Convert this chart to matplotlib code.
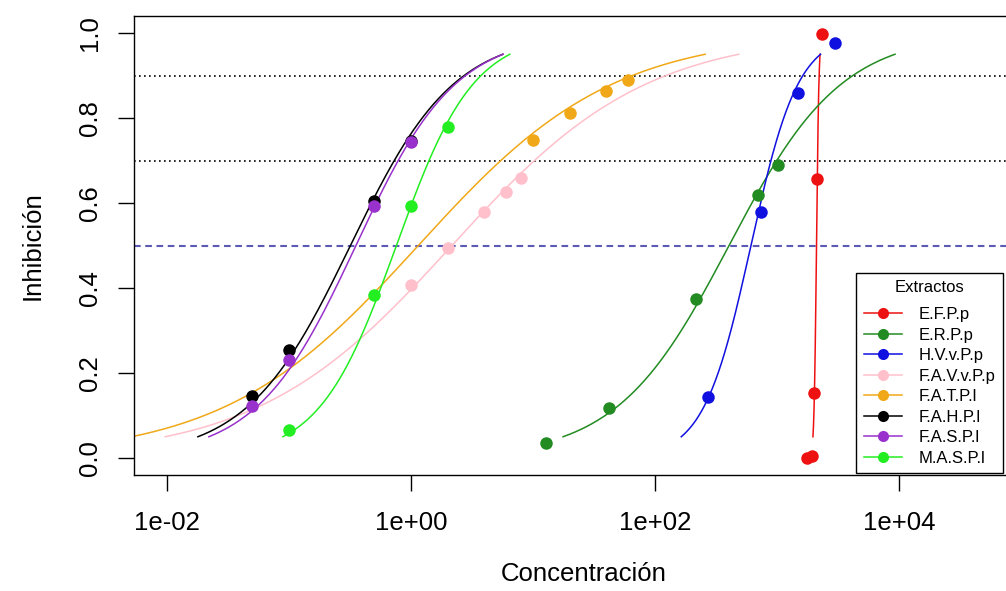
import numpy as np
import matplotlib
matplotlib.use("Agg")
import matplotlib.pyplot as plt
from matplotlib.ticker import FixedLocator, NullLocator

plt.rcParams['font.family'] = ['Liberation Sans', 'DejaVu Sans']

# ---------------- data ----------------
extracts = ["E.F.P.p", "E.R.P.p", "H.V.v.P.p", "F.A.V.v.P.p",
            "F.A.T.P.l", "F.A.H.P.l", "F.A.S.P.l", "M.A.S.P.l"]
colors = ["#EE1111", "#228B22", "#1010E0", "#FFC0CB",
          "#F0A818", "#000000", "#9932CC", "#22EE22"]

# observed points (concentration, inhibition)
efpp_conc = [1760, 1940, 2020, 2150, 2320]
efpp_inh = [0.0, 0.005, 0.152, 0.656, 0.998]

erpp_conc = [12.8, 42, 217, 700, 1020]
erpp_inh = [0.035, 0.118, 0.375, 0.619, 0.690]

hvvpp_conc = [270, 740, 1500, 3000]
hvvpp_inh = [0.144, 0.578, 0.858, 0.976]

favvpp_conc = [1, 2, 4, 6, 8]
favvpp_inh = [0.408, 0.493, 0.578, 0.625, 0.658]

fatpl_conc = [10, 20, 40, 60]
fatpl_inh = [0.749, 0.811, 0.864, 0.889]

fahpl_conc = [0.05, 0.1, 0.5, 1]
fahpl_inh = [0.147, 0.255, 0.604, 0.746]

faspl_conc = [0.05, 0.1, 0.5, 1]
faspl_inh = [0.123, 0.231, 0.594, 0.743]

maspl_conc = [0.1, 0.5, 1, 2]
maspl_inh = [0.067, 0.384, 0.594, 0.780]

conc_sets = [efpp_conc, erpp_conc, hvvpp_conc, favvpp_conc,
             fatpl_conc, fahpl_conc, faspl_conc, maspl_conc]
inh_sets = [efpp_inh, erpp_inh, hvvpp_inh, favvpp_inh,
            fatpl_inh, fahpl_inh, faspl_inh, maspl_inh]

# fitted two-parameter log-logistic models (EC50, Hill slope),
# drawn between 5 % and 95 % inhibition
ec50 = [2110, 405, 612, 2.17, 1.15, 0.319, 0.354, 0.760]
hill = [44.0, 0.94, 2.24, 0.544, 0.544, 1.023, 1.061, 1.375]

ref_levels = [0.9, 0.7, 0.5]
xtick_vals = [1e-2, 1e0, 1e2, 1e4]
xtick_labels = ["1e-02", "1e+00", "1e+02", "1e+04"]
ytick_vals = [0.0, 0.2, 0.4, 0.6, 0.8, 1.0]
ytick_labels = ["0.0", "0.2", "0.4", "0.6", "0.8", "1.0"]

# ---------------- figure ----------------
W, H = 1006, 591
fig = plt.figure(figsize=(W / 100, H / 100), dpi=100)
ax_l, ax_r, ax_t, ax_b = 134, 1033, 16, 475
ax = fig.add_axes([ax_l / W, 1 - ax_b / H, (ax_r - ax_l) / W, (ax_b - ax_t) / H])
ax.set_xscale("log")
ax.set_xlim(10 ** -2.27, 10 ** 5.099)
ax.set_ylim(-0.04, 1.04)

ax.axhline(ref_levels[0], color="black", lw=1.2, ls=(0, (1, 2)), zorder=1)
ax.axhline(ref_levels[1], color="black", lw=1.2, ls=(0, (1, 2)), zorder=1)
ax.axhline(ref_levels[2], color="#5B5BB5", lw=1.5, ls=(0, (3.2, 2.2)), zorder=1)

yy = np.linspace(0.05, 0.95, 300)
handles = []
for name, col, cx, cy, e, h in zip(extracts, colors, conc_sets, inh_sets, ec50, hill):
    xx = e * (yy / (1 - yy)) ** (1.0 / h)
    ax.plot(xx, yy, color=col, lw=1.1, zorder=2)
    ax.plot(cx, cy, "o", color=col, ms=9, mew=0, zorder=3)
    handles.append(plt.Line2D([], [], color=col, lw=1.1, marker="o", ms=8, mew=0))

ax.xaxis.set_major_locator(FixedLocator(xtick_vals))
ax.xaxis.set_minor_locator(NullLocator())
ax.set_xticklabels(xtick_labels)
ax.set_yticks(ytick_vals)
ax.set_yticklabels(ytick_labels, rotation=90, va="center")
ax.tick_params(axis="both", direction="out", length=11.5, width=1.0,
               labelsize=18.5, colors="black")
ax.tick_params(axis="x", pad=14.5)
ax.tick_params(axis="y", pad=11.5)
for s in ax.spines.values():
    s.set_linewidth(1.0)

ax.set_xlabel("Concentración", fontsize=18.5, labelpad=19.5)
ax.set_ylabel("Inhibición", fontsize=18.5, labelpad=24)

leg = ax.legend(handles, extracts, title="Extractos", loc="lower left",
                bbox_to_anchor=((856 - ax_l) / (ax_r - ax_l), 0.004),
                fontsize=12, title_fontsize=12, frameon=True, fancybox=False,
                edgecolor="black", framealpha=1, borderpad=0.45,
                labelspacing=0.33, handlelength=2.3, handletextpad=1.0,
                borderaxespad=0)
leg._legend_box.sep = 8.5
leg.get_frame().set_linewidth(1.0)

fig.savefig("out.png", dpi=100)
